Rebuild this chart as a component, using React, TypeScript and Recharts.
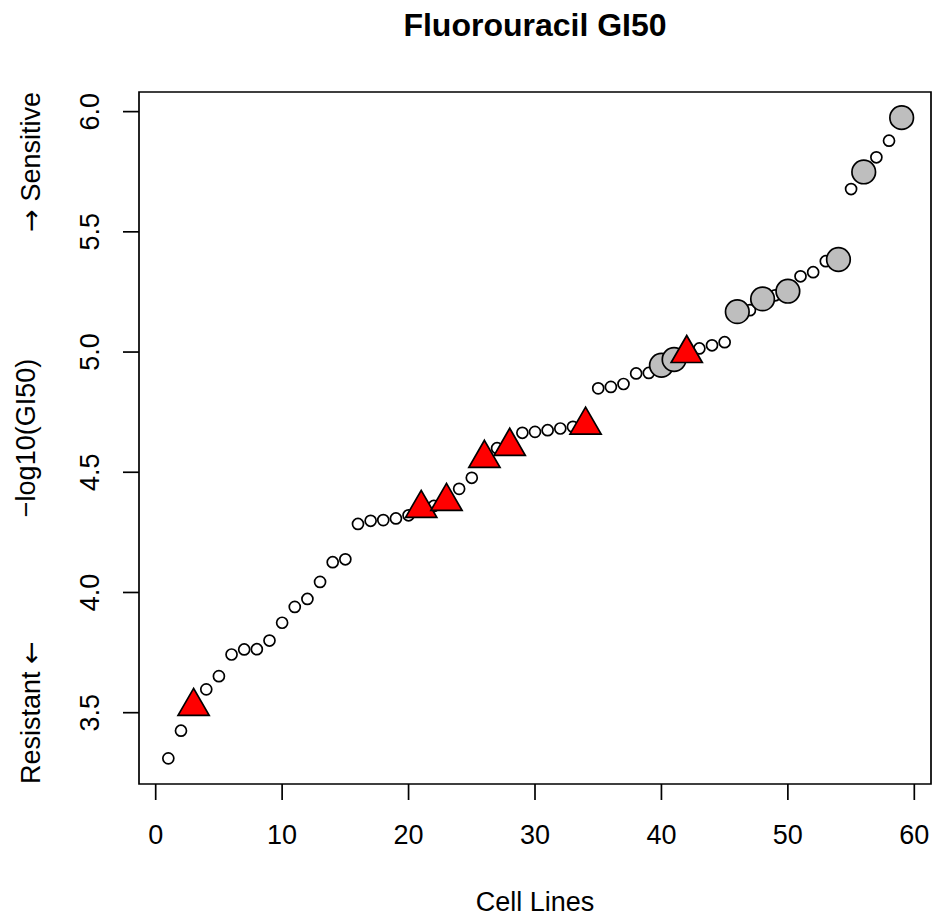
import React from 'react'
import { ScatterChart, Scatter, XAxis, YAxis, ReferenceArea } from 'recharts'

// -log10(GI50) per cell line, sorted ascending (cell line rank 1..59)
const gi50 = [
    3.310, 3.425, 3.526, 3.597, 3.652, 3.742, 3.763, 3.764, 3.800, 3.874,
    3.940, 3.973, 4.044, 4.126, 4.138, 4.285, 4.298, 4.301, 4.308, 4.321,
    4.350, 4.360, 4.379, 4.431, 4.477, 4.558, 4.600, 4.608, 4.664, 4.668,
    4.675, 4.682, 4.689, 4.696, 4.849, 4.855, 4.867, 4.911, 4.913, 4.945,
    4.969, 4.994, 5.015, 5.028, 5.041, 5.168, 5.174, 5.221, 5.236, 5.253,
    5.315, 5.332, 5.378, 5.385, 5.678, 5.749, 5.810, 5.879, 5.975,
]
// ranks drawn as big grey circles
const greyLines = [40, 41, 46, 48, 50, 54, 56, 59]
// ranks drawn as red triangles
const redLines = [3, 21, 23, 26, 28, 34, 42]

const xTicks = [0, 10, 20, 30, 40, 50, 60]
const yTicks = [3.5, 4.0, 4.5, 5.0, 5.5, 6.0]

const FONT = '"Liberation Sans", Arial, Helvetica, sans-serif'
const ARROW_FONT = '"DejaVu Sans", sans-serif'
const LW = 1.7

const points = gi50.map((y, i) => ({ x: i + 1, y }))
const plain = points.filter(p => !greyLines.includes(p.x) && !redLines.includes(p.x))
const grey = points.filter(p => greyLines.includes(p.x))
const red = points.filter(p => redLines.includes(p.x))

// R style axis ranges (4% padding)
const pad = (lo: number, hi: number): [number, number] => [lo - (hi - lo) * 0.04, hi + (hi - lo) * 0.04]
const xDomain = pad(1, gi50.length)
const yDomain = pad(Math.min(...gi50), Math.max(...gi50))

const OpenDot = (p: any) => (
    <circle cx={p.cx} cy={p.cy} r={5.5} fill="#fff" stroke="#000" strokeWidth={LW} />
)
const GreyDot = (p: any) => (
    <circle cx={p.cx} cy={p.cy} r={11.8} fill="#bebebe" stroke="#000" strokeWidth={LW} />
)
const Triangle = (p: any) => {
    const r = 18
    const xc = r * 0.866
    const d = `M${p.cx},${p.cy - r} L${p.cx + xc},${p.cy + r / 2} L${p.cx - xc},${p.cy + r / 2} Z`
    return <path d={d} fill="#ff0000" stroke="#000" strokeWidth={LW} strokeLinejoin="miter" />
}

const YTick = (p: any) => (
    <text x={p.x} y={p.y} transform={`rotate(-90 ${p.x} ${p.y})`} textAnchor="middle"
        fontSize={27} fontFamily={FONT} fill="#000">
        {Number(p.payload.value).toFixed(1)}
    </text>
)

function App() {
    return (
        <div style={{ position: 'absolute', left: 0, top: 0, width: 935, height: 919, background: '#fff' }}>
            <ScatterChart width={935} height={919} margin={{ top: 92, right: 4, left: 79, bottom: 85 }}>
                <XAxis type="number" dataKey="x" domain={xDomain} ticks={xTicks} allowDataOverflow
                    interval={0} height={50} axisLine={false} tickSize={16} tickMargin={25}
                    tickLine={{ stroke: '#000', strokeWidth: LW }}
                    tick={{ fill: '#000', fontSize: 27, fontFamily: FONT }} />
                <YAxis type="number" dataKey="y" domain={yDomain} ticks={yTicks} allowDataOverflow
                    interval={0} width={60} axisLine={false} tickSize={16} tickMargin={24}
                    tickLine={{ stroke: '#000', strokeWidth: LW }} tick={YTick} />
                <Scatter data={plain} shape={OpenDot} isAnimationActive={false} />
                <Scatter data={grey} shape={GreyDot} isAnimationActive={false} />
                <Scatter data={red} shape={Triangle} isAnimationActive={false} />
                <ReferenceArea x1={xDomain[0]} x2={xDomain[1]} y1={yDomain[0]} y2={yDomain[1]}
                    fill="none" fillOpacity={0} stroke="#000" strokeWidth={LW} ifOverflow="visible" />
            </ScatterChart>
            <svg width={935} height={919} style={{ position: 'absolute', left: 0, top: 0, pointerEvents: 'none' }}
                fontFamily={FONT} fill="#000">
                <text x={535} y={36} textAnchor="middle" fontSize={32} fontWeight="bold">Fluorouracil GI50</text>
                <text x={535} y={911} textAnchor="middle" fontSize={27}>Cell Lines</text>
                <text x={35} y={438} textAnchor="middle" fontSize={27} transform="rotate(-90 35 438)">−log10(GI50)</text>
                <text x={40} y={92} textAnchor="end" fontSize={27} transform="rotate(-90 40 92)">
                    <tspan fontFamily={ARROW_FONT}>→</tspan> Sensitive
                </text>
                <text x={40} y={784} textAnchor="start" fontSize={27} transform="rotate(-90 40 784)">
                    Resistant <tspan fontFamily={ARROW_FONT}>←</tspan>
                </text>
            </svg>
        </div>
    )
}

export default App
